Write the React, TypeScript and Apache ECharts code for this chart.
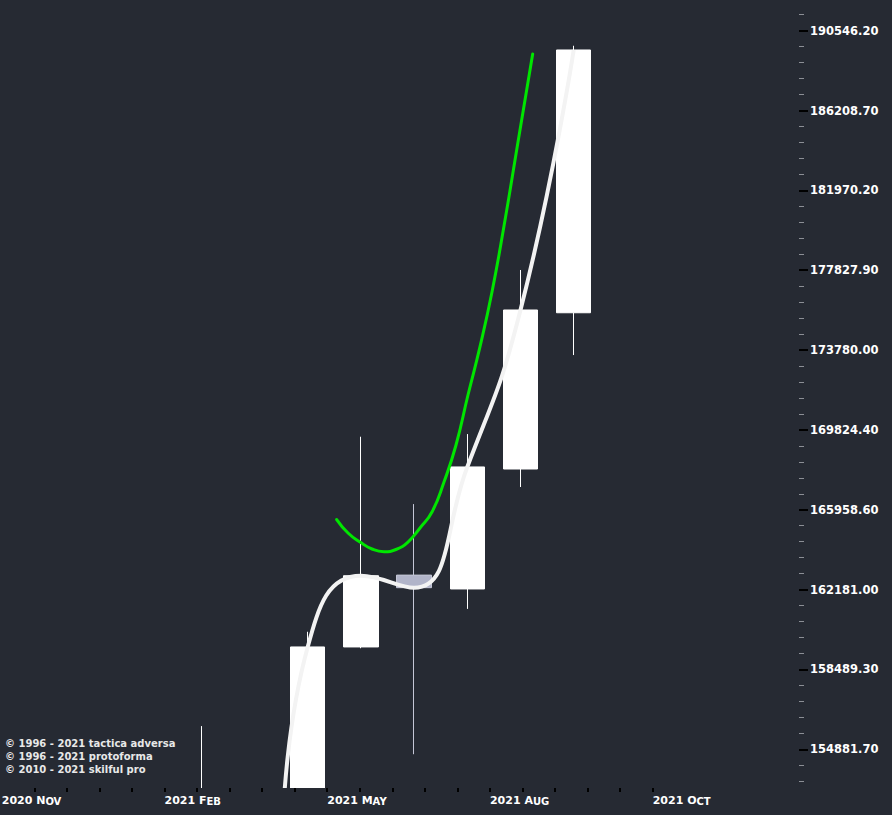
import React, { useEffect, useRef } from "react";
import * as echarts from "echarts";

// ---- data ----
const candleMonths = ["2021-02", "2021-03", "2021-04", "2021-05", "2021-06", "2021-07", "2021-08", "2021-09"];
const openValues = [146800, 150200, 145500, 159520, 162860, 162210, 167920, 175660];
const closeValues = [150200, 145500, 159520, 162830, 162270, 168020, 175800, 189490];
const lowValues = [145200, 144100, 144900, 159460, 154660, 161280, 167050, 173530];
const highValues = [155920, 152600, 160220, 169490, 166230, 169620, 177840, 189720];

// green indicator curve: position in months since 2020 NOV, value
const greenMonthPos = [5.545, 5.758, 5.983, 6.209, 6.434, 6.66, 6.885, 7.111, 7.336, 7.562, 7.788, 8.013, 8.239, 8.464, 8.69, 8.953, 9.229];
const greenValues = [165490, 164849, 164421, 164090, 163962, 164067, 164421, 165087, 165850, 167291, 169086, 171542, 173949, 176714, 180110, 184527, 189270];

const yTickLabels = [
  "154881.70", "158489.30", "162181.00", "165958.60", "169824.40",
  "173780.00", "177827.90", "181970.20", "186208.70", "190546.20",
];
const xTickLabels = ["2020 NOV", "2021 FEB", "2021 MAY", "2021 AUG", "2021 OCT"];
const copyrightLines = [
  "\u00a9 1996 - 2021 tactica adversa",
  "\u00a9 1996 - 2021 protoforma",
  "\u00a9 2010 - 2021 skilful pro",
];

// ---- axis layout constants ----
const X_MIN = -0.7838;
const X_MAX = 14.235;
const X_TICK_START = -0.751;
const X_TICK_STEP = 0.6118;
const X_TICK_COUNT = 21;
const Y_MIN = 5.185148;
const Y_MAX = 5.283845;
const BG = "#262a33";

const monthIndex = (s: string) => {
  const [y, m] = s.split("-").map(Number);
  return (y - 2020) * 12 + m - 11;
};

export default function App() {
  const ref = useRef<HTMLDivElement>(null);
  useEffect(() => {
    if (!ref.current) return;
    const chart = echarts.init(ref.current, undefined, { renderer: "svg" });

    const lg = Math.log10;
    const candleData = candleMonths.map((m, i) => [
      monthIndex(m),
      lg(openValues[i]),
      lg(closeValues[i]),
      lg(lowValues[i]),
      lg(highValues[i]),
    ]);
    const closeLine = candleMonths.map((m, i) => [monthIndex(m), lg(closeValues[i])]);
    const greenLine = greenMonthPos.map((x, i) => [x, lg(greenValues[i])]);

    const xTicks: number[] = [];
    for (let k = 1; k < X_TICK_COUNT; k++) xTicks.push(X_TICK_START + k * X_TICK_STEP);
    const xLabelPos = xTickLabels.map((_, i) => X_TICK_START + i * 5 * X_TICK_STEP);

    const yMajor = yTickLabels.map((s) => lg(parseFloat(s)));
    const yMinor: number[] = [];
    for (let i = 0; i < yMajor.length + 1; i++) {
      const base = yMajor[0] - 0.01 + i * 0.01;
      for (let j = 1; j < 5; j++) {
        const v = base + j * 0.002;
        if (v > Y_MIN && v < Y_MAX) yMinor.push(v);
      }
    }

    const nearest = (arr: number[], v: number) => {
      let best = 0;
      for (let i = 1; i < arr.length; i++) if (Math.abs(arr[i] - v) < Math.abs(arr[best] - v)) best = i;
      return best;
    };

    const option: any = {
      animation: false,
      backgroundColor: BG,
      grid: { left: 0, right: 93, top: 0, bottom: 27, containLabel: false, outerBoundsMode: "none" },
      xAxis: {
        type: "value",
        min: X_MIN,
        max: X_MAX,
        z: 60,
        axisLine: { show: false, onZero: false },
        splitLine: { show: false },
        axisTick: {
          show: true,
          customValues: xTicks,
          length: 4,
          lineStyle: { color: "#000000", width: 2 },
        },
        axisLabel: {
          show: true,
          customValues: xLabelPos,
          align: "left",
          margin: 6,
          formatter: (v: number) => {
            const s = xTickLabels[nearest(xLabelPos, v)];
            const sp = s.indexOf(" ");
            const year = s.slice(0, sp + 1);
            const first = s.charAt(sp + 1);
            const rest = s.slice(sp + 2);
            return `{n|${year}}{n|${first}}{s|${rest}}`;
          },
          rich: {
            n: { fontFamily: "DejaVu Sans", fontWeight: "bold", fontSize: 11, color: "#ffffff", lineHeight: 12 },
            s: { fontFamily: "DejaVu Sans", fontWeight: "bold", fontSize: 10, color: "#ffffff", lineHeight: 12, verticalAlign: "bottom" },
          },
        },
      },
      yAxis: [
        {
          type: "value",
          position: "right",
          min: Y_MIN,
          max: Y_MAX,
          z: 60,
          axisLine: { show: false, onZero: false },
          splitLine: { show: false },
          axisTick: {
            show: true,
            customValues: yMajor,
            length: 9,
            lineStyle: { color: "#000000", width: 2 },
          },
          axisLabel: {
            show: true,
            customValues: yMajor,
            margin: 11,
            color: "#ffffff",
            fontFamily: "DejaVu Sans",
            fontWeight: "bold",
            fontSize: 11.5,
            formatter: (v: number) => yTickLabels[nearest(yMajor, v)],
          },
        },
        {
          type: "value",
          position: "right",
          min: Y_MIN,
          max: Y_MAX,
          z: 60,
          axisLine: { show: false, onZero: false },
          splitLine: { show: false },
          axisTick: {
            show: true,
            customValues: yMinor,
            length: 5,
            lineStyle: { color: "#8c8f96", width: 1 },
          },
          axisLabel: { show: false },
        },
      ],
      series: [
        {
          type: "candlestick",
          data: candleData,
          encode: { x: 0, y: [1, 2, 3, 4] },
          barWidth: 35,
          clip: true,
          itemStyle: {
            color: "#ffffff",
            color0: "#b1b4c9",
            borderColor: "#ffffff",
            borderColor0: "#c4c6d6",
            borderWidth: 1,
          },
          z: 2,
        },
        {
          type: "line",
          data: closeLine,
          smooth: true,
          symbol: "none",
          clip: true,
          lineStyle: { color: "#f3f3f3", width: 4 },
          z: 3,
        },
        {
          type: "line",
          data: greenLine,
          smooth: 0.5,
          symbol: "none",
          clip: true,
          lineStyle: { color: "#00e600", width: 3, cap: "round" },
          z: 4,
        },
      ],
      graphic: [
        {
          // masks candle parts that fall below the plot area
          type: "rect",
          z: 50,
          shape: { x: 0, y: 788, width: 799, height: 27 },
          style: { fill: BG },
          silent: true,
        },
        {
          type: "text",
          left: 5,
          top: 737,
          z: 55,
          style: {
            text: copyrightLines.join("\n"),
            fill: "#e8e8e8",
            fontFamily: "DejaVu Sans",
            fontWeight: "bold",
            fontSize: 10,
            lineHeight: 13,
          },
        },
      ],
    };
    chart.setOption(option);
    return () => chart.dispose();
  }, []);

  return (
    <div
      ref={ref}
      style={{ position: "fixed", left: 0, top: 0, width: 892, height: 815 }}
    />
  );
}
